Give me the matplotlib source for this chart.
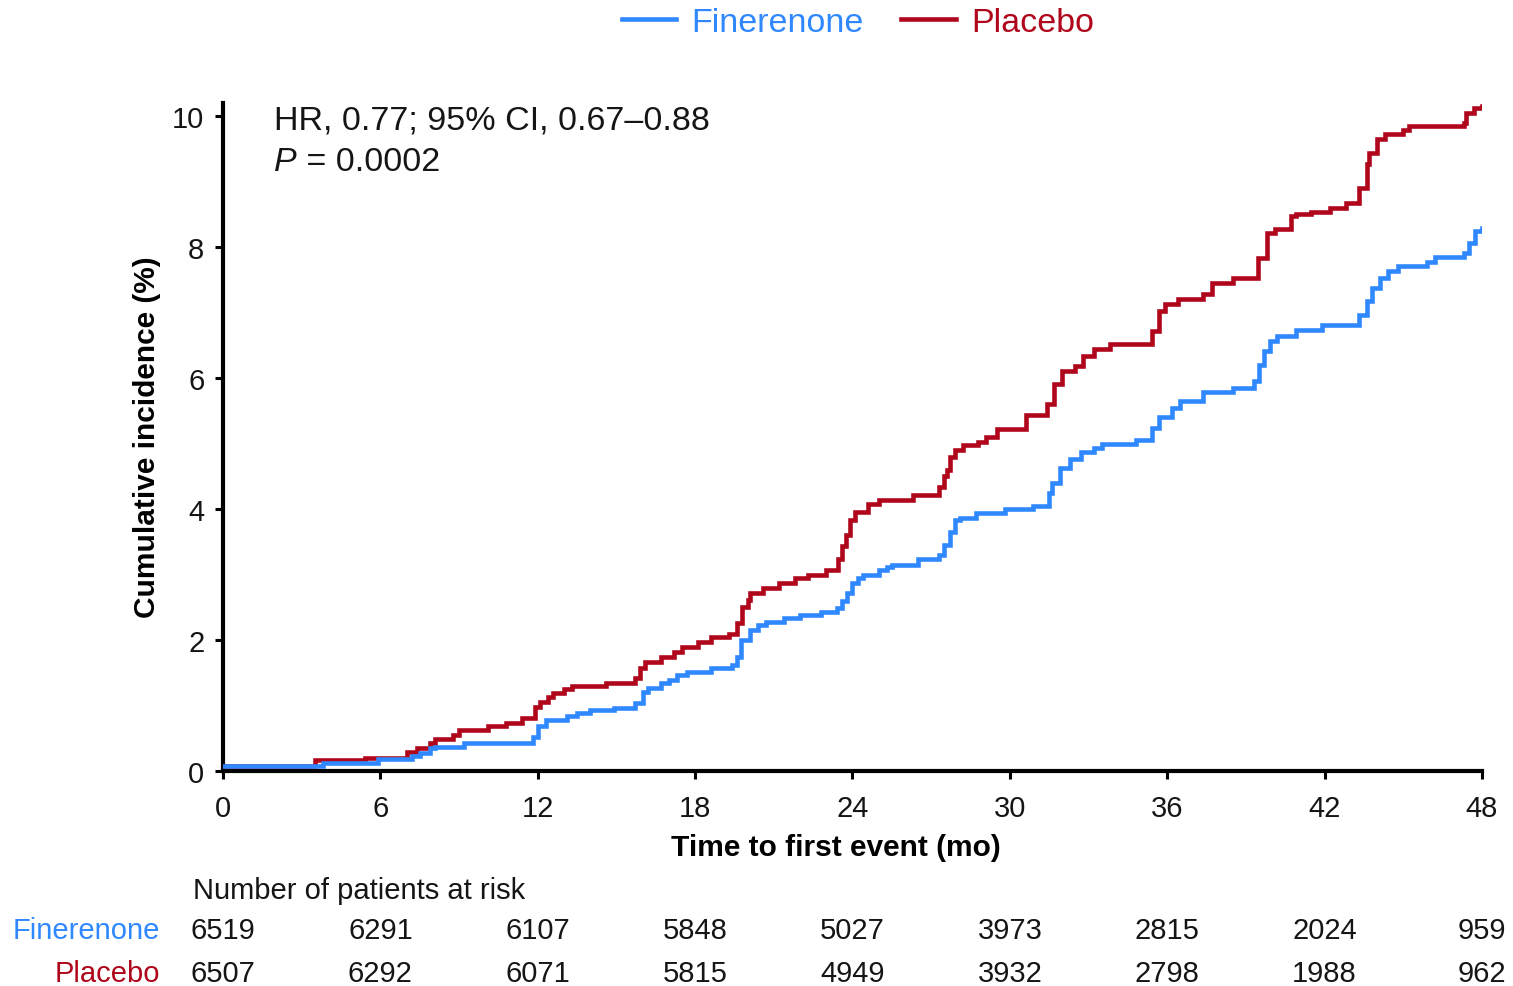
import matplotlib
matplotlib.use("Agg")
import matplotlib.pyplot as plt
from matplotlib.transforms import blended_transform_factory

plt.rcParams['font.family'] = ['Liberation Sans', 'DejaVu Sans']

# ---------------- data ----------------
fin_t = [0, 3.8, 5.9, 7.2, 7.5, 7.9, 8.1, 9.2, 11.8, 12.0, 12.3, 13.1, 13.5, 14.0, 14.9,
         15.7, 16.0, 16.2, 16.7, 17.0, 17.3, 17.7, 18.6, 19.4, 19.6, 19.75, 20.1, 20.4,
         20.7, 21.4, 22.0, 22.8, 23.4, 23.6, 23.8, 24.0, 24.2, 24.4, 25.0, 25.3, 25.5,
         26.5, 27.3, 27.5, 27.7, 27.9, 28.1, 28.7, 29.8, 30.9, 31.5, 31.6, 31.9, 32.3,
         32.7, 33.2, 33.5, 34.8, 35.4, 35.7, 36.2, 36.5, 37.35, 38.5, 39.3, 39.5, 39.7,
         39.9, 40.2, 40.9, 41.9, 43.3, 43.6, 43.8, 44.1, 44.4, 44.8, 45.9, 46.2, 47.3,
         47.5, 47.75, 48.0]
fin_v = [0.07, 0.12, 0.18, 0.23, 0.28, 0.35, 0.37, 0.43, 0.52, 0.68, 0.78, 0.84, 0.89, 0.93,
         0.97, 1.04, 1.21, 1.27, 1.34, 1.39, 1.47, 1.51, 1.58, 1.62, 1.74, 2.0, 2.15, 2.23,
         2.28, 2.34, 2.39, 2.43, 2.49, 2.6, 2.72, 2.87, 2.95, 3.0, 3.07, 3.12, 3.15, 3.23,
         3.3, 3.45, 3.65, 3.84, 3.87, 3.94, 4.0, 4.05, 4.25, 4.4, 4.62, 4.77, 4.87, 4.94,
         5.0, 5.06, 5.24, 5.4, 5.55, 5.65, 5.78, 5.85, 5.96, 6.2, 6.42, 6.57, 6.65, 6.74,
         6.81, 6.97, 7.17, 7.37, 7.53, 7.64, 7.71, 7.77, 7.85, 7.91, 8.07, 8.24, 8.29]

pla_t = [0, 3.5, 5.4, 7.0, 7.4, 7.9, 8.1, 8.75, 9.0, 10.1, 10.8, 11.4, 11.9, 12.1, 12.4,
         12.6, 13.0, 13.3, 14.6, 15.7, 15.9, 16.1, 16.7, 17.2, 17.5, 18.1, 18.6, 19.3,
         19.6, 19.8, 20.0, 20.1, 20.6, 21.2, 21.8, 22.3, 23.0, 23.45, 23.6, 23.75, 23.9,
         24.1, 24.6, 25.0, 26.3, 27.3, 27.5, 27.6, 27.7, 27.9, 28.2, 28.8, 29.1, 29.5,
         30.6, 31.4, 31.7, 32.0, 32.5, 32.8, 33.2, 33.8, 35.4, 35.7, 35.9, 36.4, 37.35,
         37.7, 38.5, 39.45, 39.8, 40.1, 40.7, 40.9, 41.5, 42.2, 42.8, 43.3, 43.6, 43.7,
         44.0, 44.3, 45.0, 45.2, 47.3, 47.4, 47.7, 48.0]
pla_v = [0.07, 0.17, 0.2, 0.29, 0.35, 0.43, 0.49, 0.55, 0.63, 0.68, 0.74, 0.81, 0.98, 1.06,
         1.13, 1.19, 1.26, 1.3, 1.35, 1.42, 1.57, 1.67, 1.74, 1.82, 1.9, 1.97, 2.05, 2.1,
         2.26, 2.51, 2.61, 2.72, 2.79, 2.87, 2.95, 3.0, 3.07, 3.23, 3.43, 3.6, 3.84, 3.96,
         4.07, 4.14, 4.22, 4.33, 4.5, 4.6, 4.8, 4.9, 4.98, 5.03, 5.1, 5.22, 5.43, 5.61,
         5.91, 6.11, 6.19, 6.34, 6.45, 6.52, 6.72, 7.03, 7.13, 7.21, 7.29, 7.45, 7.53,
         7.84, 8.22, 8.27, 8.47, 8.51, 8.54, 8.6, 8.67, 8.9, 9.27, 9.44, 9.65, 9.73, 9.79,
         9.85, 9.89, 10.05, 10.12, 10.15]

x_ticks = [0, 6, 12, 18, 24, 30, 36, 42, 48]
y_ticks = [0, 2, 4, 6, 8, 10]
risk_fin = [6519, 6291, 6107, 5848, 5027, 3973, 2815, 2024, 959]
risk_pla = [6507, 6292, 6071, 5815, 4949, 3932, 2798, 1988, 962]
arm_names = ["Finerenone", "Placebo"]

BLUE = "#2F88FF"
RED = "#B0061B"
TXT = "#151515"

# ---------------- figure ----------------
fig = plt.figure(figsize=(15.13, 9.87), dpi=100)
ax = fig.add_axes([0.1474, 0.2178, 0.8321, 0.6768])

l1, = ax.step(fin_t, fin_v, where='post', color=BLUE, lw=3.3, label=arm_names[0],
              solid_joinstyle='miter', zorder=3)
l2, = ax.step(pla_t, pla_v, where='post', color=RED, lw=3.3, label=arm_names[1],
              solid_joinstyle='miter', zorder=2)

ax.set_xlim(0, 48)
ax.set_ylim(0, 10.2)
ax.set_xticks(x_ticks)
ax.set_yticks(y_ticks)
ax.set_xticklabels([str(v) for v in x_ticks])
ax.set_yticklabels([str(v) for v in y_ticks])

for s in ['top', 'right']:
    ax.spines[s].set_visible(False)
for s in ['left', 'bottom']:
    ax.spines[s].set_linewidth(3.0)
    ax.spines[s].set_color('black')
    ax.spines[s].set_capstyle('projecting')

ax.tick_params(axis='both', direction='out', length=6, width=2.2, colors='black',
               labelsize=21, labelcolor=TXT)
ax.tick_params(axis='x', pad=10.5)
ax.tick_params(axis='y', pad=7.5)

ax.set_xlabel("Time to first event (mo)", fontsize=21.5, fontweight='bold', color='black')
ax.xaxis.set_label_coords(0.487, -0.1140)
ax.xaxis.label.set_va('center')
ax.set_ylabel("Cumulative incidence (%)", fontsize=21.5, fontweight='bold', color='black')
ax.yaxis.set_label_coords(-0.0604, 0.502)
ax.yaxis.label.set_va('center')

# HR annotation
ax.text(0.0405, 0.9745, "HR, 0.77; 95% CI, 0.67\u20130.88", transform=ax.transAxes,
        fontsize=24.5, ha='left', va='center', color=TXT)
ptxt = ax.text(0.0405, 0.9130, "P", transform=ax.transAxes, fontsize=24.5,
               ha='left', va='center', style='italic', color=TXT)
ax.annotate(" = 0.0002", xy=(1, 0), xycoords=ptxt, fontsize=24.5, ha='left',
            va='bottom', color=TXT)

# legend
fig.legend(handles=[l1, l2], labels=arm_names, loc='center', bbox_to_anchor=(0.567, 0.976),
           ncol=2, frameon=False, handlelength=1.6, handletextpad=0.45,
           columnspacing=1.1, borderaxespad=0, borderpad=0, labelcolor='linecolor',
           fontsize=24.5)

# risk table
tr = blended_transform_factory(ax.transData, ax.transAxes)
ax.text(-0.0238, -0.1786, "Number of patients at risk", transform=ax.transAxes,
        fontsize=21, ha='left', va='center', clip_on=False, color=TXT)
ax.text(-0.05, -0.2385, arm_names[0], transform=ax.transAxes, fontsize=21,
        ha='right', va='center', color=BLUE, clip_on=False)
ax.text(-0.05, -0.3030, arm_names[1], transform=ax.transAxes, fontsize=21,
        ha='right', va='center', color=RED, clip_on=False)
for xt, a, b in zip(x_ticks, risk_fin, risk_pla):
    ax.text(xt, -0.2385, str(a), transform=tr, fontsize=21, ha='center', va='center',
            clip_on=False, color=TXT)
    ax.text(xt, -0.3030, str(b), transform=tr, fontsize=21, ha='center', va='center',
            clip_on=False, color=TXT)

fig.savefig("out.png", dpi=100, facecolor='white')
